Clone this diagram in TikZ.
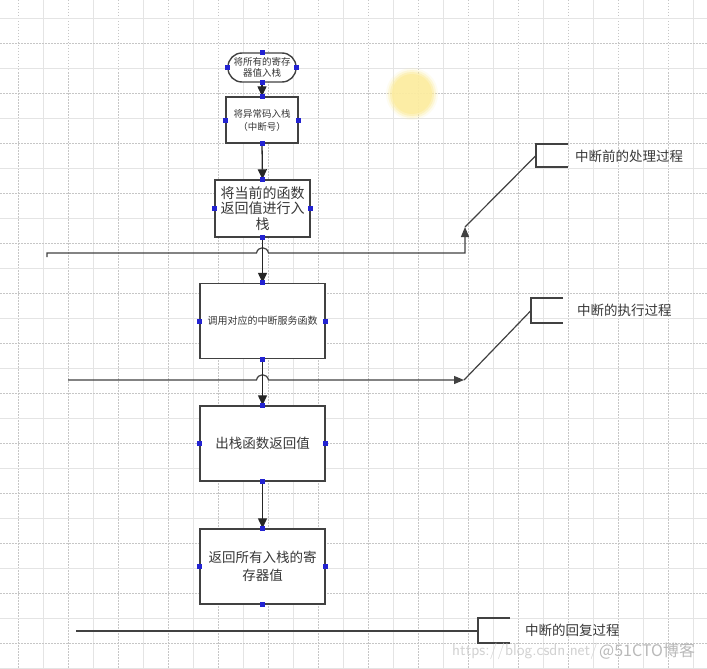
\documentclass[tikz,border=0pt]{standalone}
\usepackage{fontspec}
\newfontfamily\cjk{Noto Sans CJK SC}
\usetikzlibrary{arrows.meta}
\definecolor{gridsolid}{RGB}{228,228,228}
\definecolor{griddot}{RGB}{198,198,198}
\definecolor{boxline}{RGB}{65,65,65}
\definecolor{handle}{RGB}{35,35,210}
\definecolor{txt}{RGB}{55,55,55}
\definecolor{glow}{RGB}{252,236,160}
\begin{document}
\begin{tikzpicture}[x=1pt,y=-1pt,
 box/.style={draw=boxline, line width=1.4pt, fill=white, inner sep=0pt, align=center, text=txt},
 flow/.style={draw=black!85, line width=1.3pt, -{Triangle[length=10pt,width=9pt]}},
 sepline/.style={draw=boxline, line width=1.2pt},
 sepend/.style={sepline, -{Triangle[length=10pt,width=8pt]}},
 brk/.style={draw=boxline, line width=1.4pt},
 lbl/.style={anchor=west, inner sep=0pt, text=txt, font=\cjk\fontsize{13.5}{15}\selectfont},
 hdl/.style={fill=handle, draw=none, minimum size=5pt, inner sep=0pt}
]
\useasboundingbox (0,0) rectangle (707,669);
\fill[white] (0,0) rectangle (707,669);
% grid
\foreach \x [count=\i] in {18,43,...,693} {
  \ifodd\i
    \draw[griddot, line width=0.8pt, dash pattern=on 1.5pt off 1.5pt] (\x,0) -- (\x,669);
  \else
    \draw[gridsolid, line width=0.8pt] (\x,0) -- (\x,669);
  \fi
}
\foreach \y [count=\i] in {18,43,...,668} {
  \ifodd\i
    \draw[gridsolid, line width=0.8pt] (0,\y) -- (707,\y);
  \else
    \draw[griddot, line width=0.8pt, dash pattern=on 1.5pt off 1.5pt] (0,\y) -- (707,\y);
  \fi
}
% yellow highlight
\foreach \r/\o in {26/0.15,24/0.3,22/0.5,20/0.8}
  \fill[glow, opacity=\o] (412,94) circle (\r);

% boxes
\node[box, rounded corners=14pt, minimum width=68pt, minimum height=29pt, font=\cjk\fontsize{9.5}{11}\selectfont] (b1) at (262,67.5) {将所有的寄存\\器值入栈};
\node[box, minimum width=72pt, minimum height=46pt, font=\cjk\fontsize{9.5}{13}\selectfont] (b2) at (262,120) {将异常码入栈\\（中断号）};
\node[box, minimum width=95pt, minimum height=57pt, font=\cjk\fontsize{14}{15.5}\selectfont] (b3) at (262.5,208.5) {将当前的函数\\返回值进行入\\栈};
\node[box, minimum width=125pt, minimum height=75pt, font=\cjk\fontsize{10}{12}\selectfont] (b4) at (262.5,321) {调用对应的中断服务函数};
\node[box, minimum width=125pt, minimum height=75pt, font=\cjk\fontsize{13.5}{16}\selectfont] (b5) at (262.5,443.5) {出栈函数返回值};
\node[box, minimum width=125pt, minimum height=75pt, font=\cjk\fontsize{13.5}{18}\selectfont] (b6) at (262.5,566.5) {返回所有入栈的寄\\存器值};

% separator 1
\coordinate (s1a) at (47,257);
\coordinate (s1b) at (465,253);
\coordinate (t1) at (465,227);
\coordinate (br1) at (536,155.5);
\draw[sepend] (s1a) -- (47,253) -- (256.5,253) .. controls (258,246) and (267,246) .. (268.5,253) -- (s1b) -- (t1);
\draw[sepline] (t1) -- (br1);
\draw[brk] (568,144) -- (536,144) -- (536,167) -- (568,167);
\node[lbl] (L1) at (575,156) {中断前的处理过程};

% separator 2
\coordinate (s2a) at (68,380);
\coordinate (t2) at (464,380);
\coordinate (br2) at (531,310.5);
\draw[sepend] (s2a) -- (256.5,380) .. controls (258,373) and (267,373) .. (268.5,380) -- (t2);
\draw[sepline] (t2) -- (br2);
\draw[brk] (563,298) -- (531,298) -- (531,323) -- (563,323);
\node[lbl] (L2) at (577,310) {中断的执行过程};

% separator 3
\coordinate (s3a) at (76,631);
\coordinate (br3) at (478,631);
\draw[sepline] (s3a) -- (br3);
\draw[brk] (510,618) -- (478,618) -- (478,643) -- (510,643);
\node[lbl] (L3) at (525,630) {中断的回复过程};

% flow
\draw[flow] (b1.south) -- (b2.north);
\draw[flow] (b2.south) -- (b3.north);
\draw[flow] (b3.south) -- (b4.north);
\draw[flow] (b4.south) -- (b5.north);
\draw[flow] (b5.south) -- (b6.north);

% selection handles
\foreach \b in {b1,b2,b3,b4,b5,b6}
  \foreach \a in {north,south,east,west}
    \node[hdl] (h\b\a) at (\b.\a) {};

% watermark
\node[anchor=west, inner sep=0pt, text=gray!35, font=\sffamily\fontsize{16.5}{17}\selectfont] (wm1) at (452,651) {https://blog.csdn.net/};
\node[anchor=west, inner sep=0pt, text=gray!55, font=\cjk\fontsize{16}{17}\selectfont] (wm2) at (599,651) {@51CTO博客};
\end{tikzpicture}
\end{document}
